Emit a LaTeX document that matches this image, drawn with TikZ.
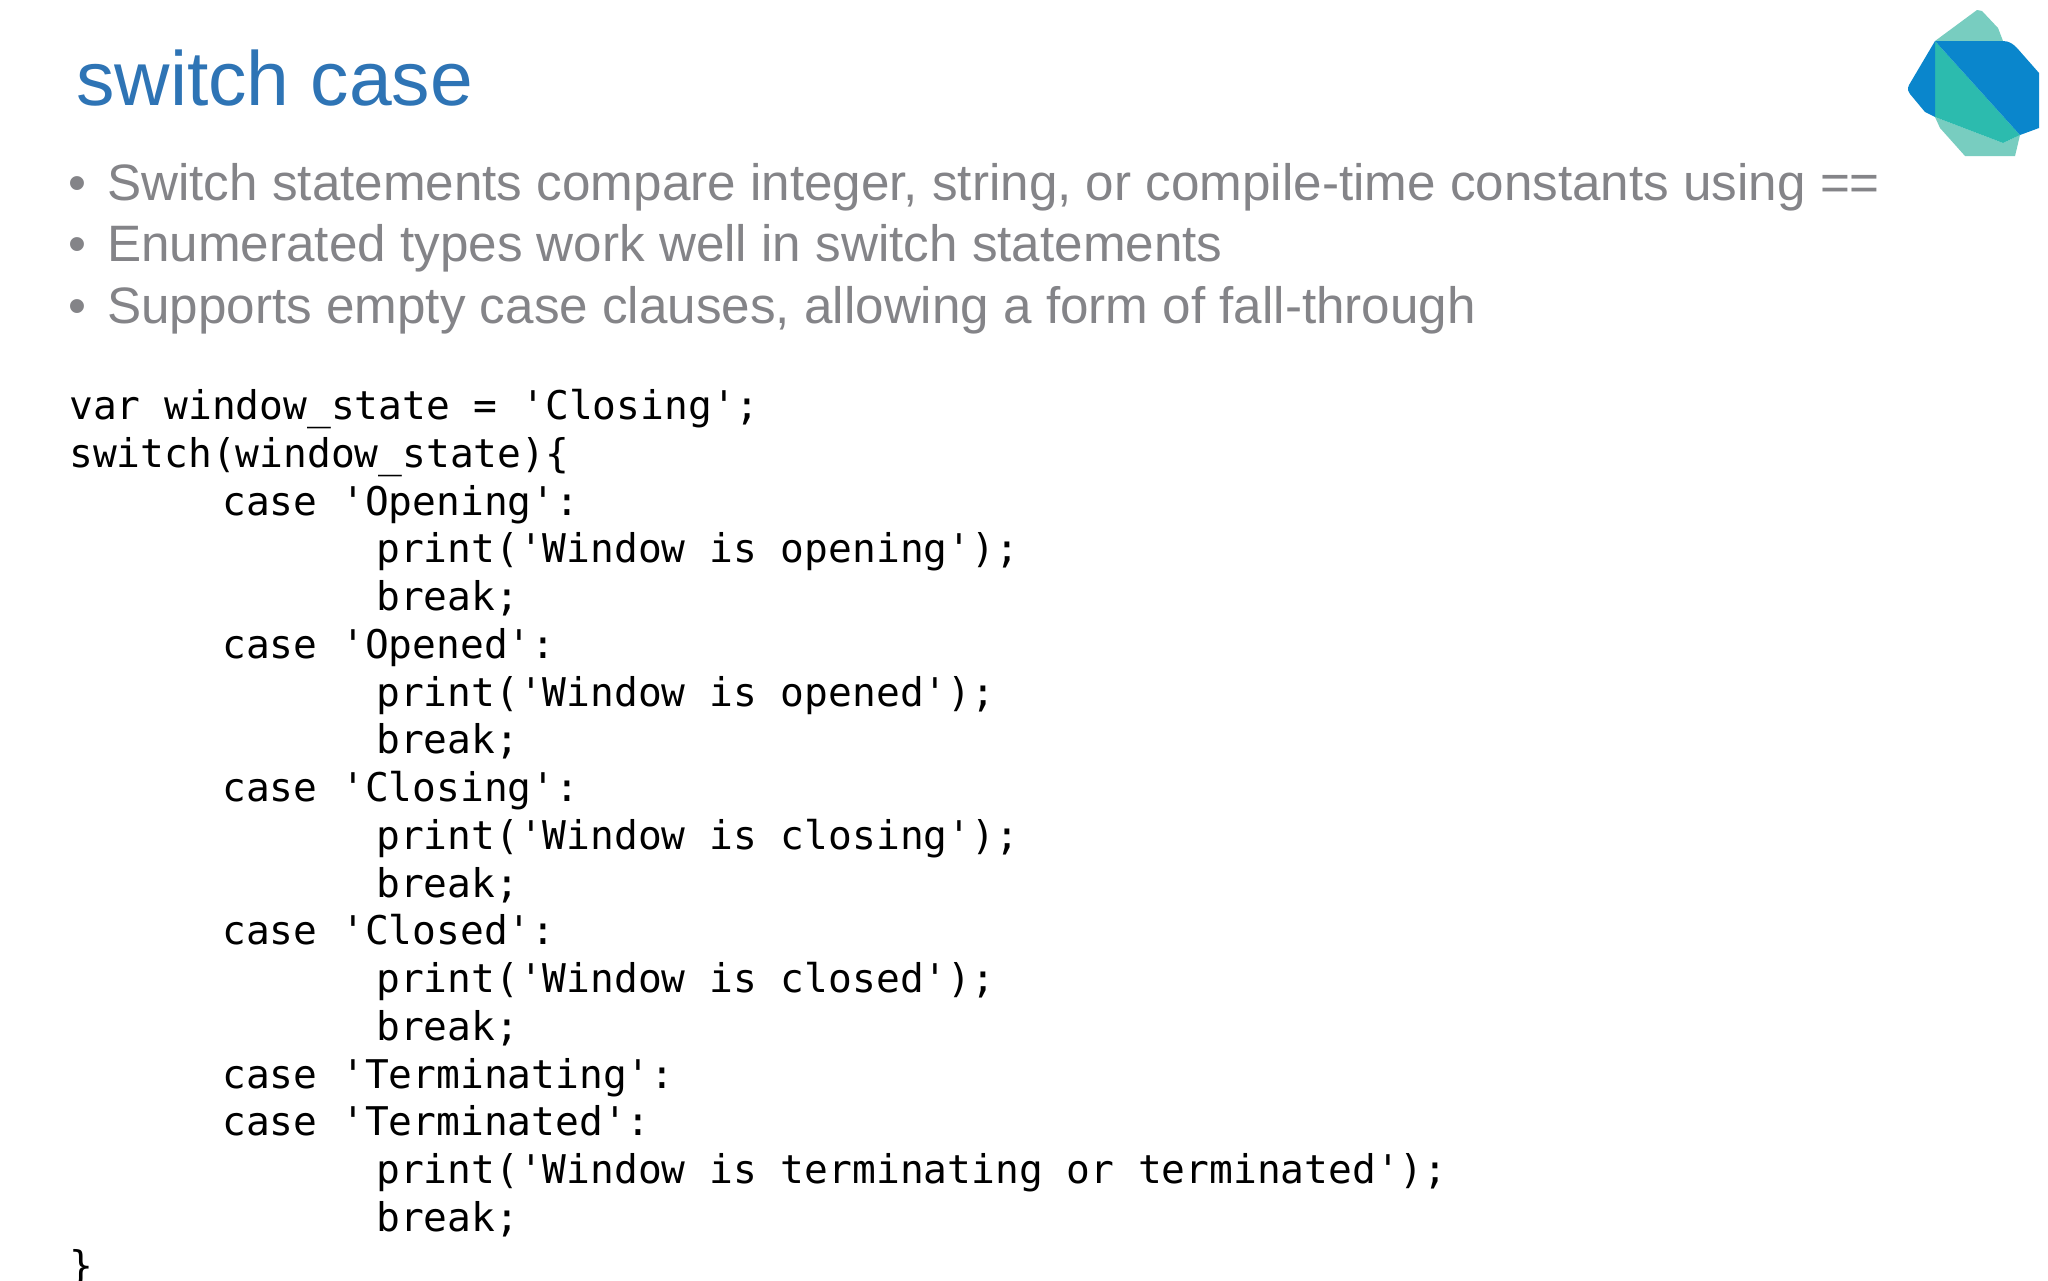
\documentclass[tikz,border=0pt]{standalone}
\usepackage{fontspec}
\setmainfont{Liberation Sans}
\newfontfamily\codefont{DejaVu Sans Mono}
\definecolor{titleblue}{HTML}{2E74B5}
\definecolor{bulletgray}{HTML}{848488}
\definecolor{logolight}{HTML}{78CDC0}
\definecolor{logoteal}{HTML}{2CBBAE}
\definecolor{logoblue}{HTML}{0A86CC}
\tikzset{
  titletext/.style={anchor=base west,inner sep=0pt,text=titleblue,font=\fontsize{76.8}{80}\selectfont},
  bullettext/.style={anchor=base west,inner sep=0pt,text=bulletgray,font=\fontsize{51.2}{56}\selectfont},
  codeline/.style={anchor=base west,inner sep=0pt,text=black,font=\codefont\fontsize{39.55}{48}\selectfont}
}
\begin{document}
\begin{tikzpicture}[x=1pt,y=-1pt,line join=round]
  \useasboundingbox (0,0) rectangle (2048,1280);
  \clip (0,0) rectangle (2048,1280);
  \fill[white] (0,0) rectangle (2048,1280);
  % logo
  \fill[logolight] (1935,41)--(1977,10)--(1982,11)--(1998,28)--(2003,41)--cycle;
  \fill[logolight] (1935,117)--(2003,143)--(2020,135)--(2015,156)--(1965,156)--(1940,128)--cycle;
  \fill[logoteal] (1935,41)--(2020,135)--(2003,143)--(1935,117)--cycle;
  \fill[logoblue] (1935,41) -- (2003,41) .. controls (2010,41) and (2014,45) .. (2017,48) -- (2039,73) -- (2039,128) -- (2020,135) -- cycle;
  \fill[logoblue] (1935,41) -- (1909,85) .. controls (1907,89) and (1908,92) .. (1910,94) -- (1925,112) -- (1935,117) -- cycle;
  % heading and bullets
  \node[titletext] (title) at (76,105) {switch case};
  \foreach \i/\y/\txt in {1/200/{Switch statements compare integer, string, or compile-time constants using ==},
      2/261.5/{Enumerated types work well in switch statements},
      3/323/{Supports empty case clauses, allowing a form of fall-through}}{
    \node[bullettext] (dot\i) at (68,\y) {•};
    \node[bullettext] (item\i) at (107,\y) {\txt};
  }
  % code
  \foreach \i/\x/\txt in {1/69/{var window\_state = 'Closing';},
      2/69/{switch(window\_state)\{},
      3/222/{case 'Opening':},
      4/376/{print('Window is opening');},
      5/376/{break;},
      6/222/{case 'Opened':},
      7/376/{print('Window is opened');},
      8/376/{break;},
      9/222/{case 'Closing':},
      10/376/{print('Window is closing');},
      11/376/{break;},
      12/222/{case 'Closed':},
      13/376/{print('Window is closed');},
      14/376/{break;},
      15/222/{case 'Terminating':},
      16/222/{case 'Terminated':},
      17/376/{print('Window is terminating or terminated');},
      18/376/{break;},
      19/69/{\}}}{
    \node[codeline] (code\i) at (\x,{419.5+47.75*(\i-1)}) {\txt};
  }
\end{tikzpicture}
\end{document}
